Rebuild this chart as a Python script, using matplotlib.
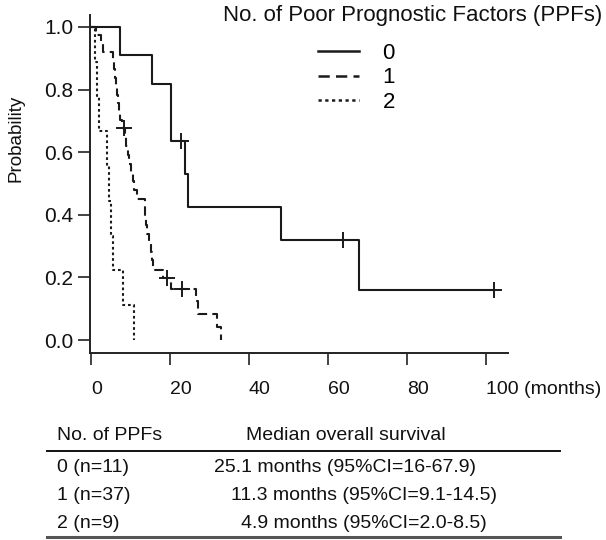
import numpy as np
import matplotlib.pyplot as plt
from matplotlib.lines import Line2D

plt.rcParams['font.family'] = ['Liberation Sans', 'DejaVu Sans']

# Kaplan-Meier step curves (months, survival probability)
months0 = [0, 7.4, 15.4, 20.3, 23.9, 24.7, 48.1, 67.7, 101.9]
surv0 = [1.0, 0.909, 0.818, 0.636, 0.530, 0.424, 0.318, 0.159, 0.159]
cens0_t = [22.7, 63.7, 101.9]
cens0_s = [0.636, 0.318, 0.159]

months1 = [0, 1.3, 2.5, 3.2, 5.6, 5.8, 6.0, 6.3, 6.6, 6.9, 7.2, 7.5, 7.8,
           8.6, 9.0, 9.4, 9.7, 10.2, 10.7, 11.0, 11.8, 13.6, 13.8, 14.0, 14.3,
           14.8, 15.1, 15.4, 15.7, 18.3, 20.4, 26.6, 27.0, 31.8, 32.8]
surv1 = [1.0, 0.973, 0.946, 0.919, 0.892, 0.865, 0.838, 0.811, 0.784, 0.757,
         0.730, 0.703, 0.676, 0.648, 0.620, 0.592, 0.563, 0.535, 0.507, 0.479,
         0.451, 0.423, 0.394, 0.366, 0.338, 0.310, 0.282, 0.254, 0.225, 0.197,
         0.164, 0.123, 0.082, 0.041, 0.0]
cens1_t = [8.3, 19.2, 23.1]
cens1_s = [0.676, 0.197, 0.164]

months2 = [0, 1.1, 1.6, 2.2, 4.2, 4.6, 5.2, 5.6, 8.1, 10.9]
surv2 = [1.0, 0.889, 0.778, 0.667, 0.556, 0.444, 0.333, 0.222, 0.111, 0.0]

groups = ["0", "1", "2"]
x_ticks = [0, 20, 40, 60, 80, 100]
x_labels = ["0", "20", "40", "60", "80", "100 (months)"]
y_ticks = [0.0, 0.2, 0.4, 0.6, 0.8, 1.0]

# summary table
table_header = ["No. of PPFs", "Median overall survival"]
table_groups = ["0 (n=11)", "1 (n=37)", "2 (n=9)"]
table_medians = ["25.1 months (95%CI=16-67.9)",
                 "11.3 months (95%CI=9.1-14.5)",
                 "4.9 months (95%CI=2.0-8.5)"]

W, H = 606, 540
fig = plt.figure(figsize=(W / 100, H / 100), dpi=100)
ax = fig.add_axes([90 / W, 1 - 353 / H, 418 / W, 338 / H])

col = "#1a1a1a"
styles = ["-", (0, (4.5, 2.5)), (0, (1.3, 1.4))]
curves = [(months0, surv0), (months1, surv1), (months2, surv2)]
for (t, s), ls, g in zip(curves, styles, groups):
    ax.step(t, s, where="post", color=col, lw=1.5, ls=ls, label=g)

ax.plot(cens0_t, cens0_s, "+", color=col, ms=12, mew=1.4)
ax.plot(cens1_t, cens1_s, "+", color=col, ms=12, mew=1.4)

ax.set_xlim(-0.2, 105.5)
ax.set_ylim(-0.0415, 1.038)
ax.spines["top"].set_visible(False)
ax.spines["right"].set_visible(False)
for sp in ["left", "bottom"]:
    ax.spines[sp].set_linewidth(1.4)
    ax.spines[sp].set_color("#222222")

ax.set_xticks(x_ticks)
ax.set_xticklabels(x_labels, ha="left")
ax.set_yticks(y_ticks)
ax.set_yticklabels([f"{v:.1f}" for v in y_ticks])
ax.tick_params(axis="x", length=8.5, width=1.2, pad=11.5, labelsize=14, colors="#222222")
ax.tick_params(axis="y", length=8.5, width=1.2, pad=3.5, labelsize=15, colors="#222222")
for lbl in ax.get_xticklabels() + ax.get_yticklabels():
    lbl.set_color("#111111")

fig.text(16 / W, 1 - 138 / H, "Probability", rotation=90, fontsize=13.5,
         ha="center", va="center", color="#111111")

# legend
fig.text(223 / W, 1 - 16 / H, "No. of Poor Prognostic Factors (PPFs)",
         fontsize=16, ha="left", va="center", color="#111111")
handles = [Line2D([0], [0], color=col, lw=1.8, ls=ls) for ls in styles]
fig.legend(handles, groups, loc="upper left", bbox_to_anchor=(318 / W, 1 - 43 / H),
           frameon=False, fontsize=16, handlelength=1.85, handletextpad=1.05,
           labelspacing=0.15, borderaxespad=0, borderpad=0)

# table below the plot
tc = "#111111"
fig.text(57 / W, 1 - 436 / H, table_header[0], fontsize=14, ha="left", va="center", color=tc)
fig.text(346 / W, 1 - 436 / H, table_header[1], fontsize=14, ha="center", va="center", color=tc)
fig.add_artist(Line2D([47 / W, 560 / W], [1 - 451 / H, 1 - 451 / H], color="#111111", lw=1.4))
row_y = [467, 496, 524]
med_x = [214, 231, 241]
for y, g, m, mx in zip(row_y, table_groups, table_medians, med_x):
    fig.text(57 / W, 1 - y / H, g, fontsize=14, ha="left", va="center", color=tc)
    fig.text(mx / W, 1 - y / H, m, fontsize=14, ha="left", va="center", color=tc)
fig.add_artist(Line2D([47 / W, 560 / W], [1 - 537 / H, 1 - 537 / H], color="#555555", lw=2.2))

fig.savefig("out.png", dpi=100)
